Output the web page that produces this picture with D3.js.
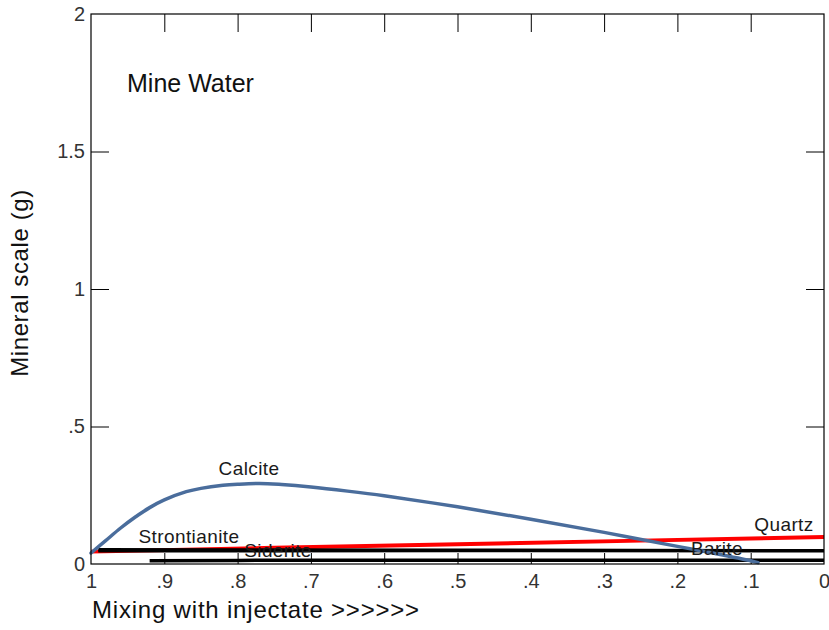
<!DOCTYPE html>
<html>
<head>
<meta charset="utf-8">
<script src="https://cdn.jsdelivr.net/npm/d3@7"></script>
<style>
  html, body { margin: 0; padding: 0; background: #fff; }
  svg { display: block; }
  text { font-family: "Liberation Sans", Arial, sans-serif; }
</style>
</head>
<body>
<svg id="chart" width="829" height="630"></svg>
<script>
// Mixing fraction (1 = pure mine water, 0 = pure injectate)
const calciteMix   = [1.0, 0.98, 0.96, 0.94, 0.92, 0.9, 0.87, 0.85, 0.82, 0.8, 0.77, 0.74, 0.7, 0.65, 0.6, 0.5, 0.4, 0.3, 0.2, 0.15, 0.1, 0.09];
const calciteScale = [0.04, 0.085, 0.13, 0.17, 0.205, 0.233, 0.263, 0.275, 0.286, 0.290, 0.293, 0.289, 0.280, 0.265, 0.248, 0.208, 0.163, 0.115, 0.064, 0.039, 0.012, 0.005];

const quartzMix   = [1.0, 0.75, 0.5, 0.25, 0.0];
const quartzScale = [0.045, 0.059, 0.072, 0.085, 0.098];

const strontMix   = [0.99, 0.5, 0.0];
const strontScale = [0.052, 0.050, 0.048];

const bariteMix   = [0.99, 0.5, 0.0];
const bariteScale = [0.047, 0.048, 0.049];

const sideriteMix   = [0.92, 0.8, 0.7, 0.5, 0.3, 0.0];
const sideriteScale = [0.012, 0.013, 0.014, 0.014, 0.014, 0.014];

const xTicks = [1, 0.9, 0.8, 0.7, 0.6, 0.5, 0.4, 0.3, 0.2, 0.1, 0];
const xTickLabels = ["1", ".9", ".8", ".7", ".6", ".5", ".4", ".3", ".2", ".1", "0"];
const yTicks = [0, 0.5, 1, 1.5, 2];
const yTickLabels = ["0", ".5", "1", "1.5", "2"];

const svg = d3.select("#chart");
const plotL = 91, plotR = 824, plotT = 14, plotB = 564;

const x = d3.scaleLinear().domain([1, 0]).range([plotL, plotR]);
const y = d3.scaleLinear().domain([0, 2]).range([plotB, plotT]);

const zip = (a, b) => a.map((v, i) => [v, b[i]]);
const line = d3.line().x(d => x(d[0])).y(d => y(d[1]));
const smooth = d3.line().x(d => x(d[0])).y(d => y(d[1])).curve(d3.curveCatmullRom.alpha(0.5));

const fmtX = d => xTickLabels[xTicks.indexOf(d)];
const fmtY = d => yTickLabels[yTicks.indexOf(d)];

// inward ticks on all four sides
svg.append("g").attr("transform", `translate(0,${plotT})`)
  .call(d3.axisBottom(x).tickValues(xTicks.slice(1, -1)).tickSize(18).tickFormat(""))
  .call(g => g.select(".domain").remove());

svg.append("g").attr("transform", `translate(0,${plotB})`)
  .call(d3.axisTop(x).tickValues(xTicks.slice(1, -1)).tickSize(11).tickFormat(""))
  .call(g => g.select(".domain").remove());

svg.append("g").attr("transform", `translate(${plotL},0)`)
  .call(d3.axisRight(y).tickValues(yTicks.slice(1, -1)).tickSize(18).tickFormat(""))
  .call(g => g.select(".domain").remove());

svg.append("g").attr("transform", `translate(${plotR},0)`)
  .call(d3.axisLeft(y).tickValues(yTicks.slice(1, -1)).tickSize(18).tickFormat(""))
  .call(g => g.select(".domain").remove());

// tick labels
svg.append("g").attr("transform", `translate(0,${plotB})`)
  .call(d3.axisBottom(x).tickValues(xTicks).tickSize(0).tickPadding(10).tickFormat(fmtX))
  .call(g => g.select(".domain").remove())
  .call(g => g.selectAll("text").attr("font-size", 20).attr("fill", "#333")
    .attr("font-family", "'Liberation Sans', Arial, sans-serif"));

svg.append("g").attr("transform", `translate(${plotL},0)`)
  .call(d3.axisLeft(y).tickValues(yTicks).tickSize(0).tickPadding(6).tickFormat(fmtY))
  .call(g => g.select(".domain").remove())
  .call(g => g.selectAll("text").attr("font-size", 20).attr("fill", "#333")
    .attr("font-family", "'Liberation Sans', Arial, sans-serif"));

// mineral curves
svg.append("path").datum(zip(quartzMix, quartzScale))
  .attr("d", line).attr("fill", "none").attr("stroke", "#ff0000").attr("stroke-width", 4);

svg.append("path").datum(zip(bariteMix, bariteScale))
  .attr("d", line).attr("fill", "none").attr("stroke", "#000").attr("stroke-width", 3);

svg.append("path").datum(zip(strontMix, strontScale))
  .attr("d", line).attr("fill", "none").attr("stroke", "#000").attr("stroke-width", 3.5);

svg.append("path").datum(zip(sideriteMix, sideriteScale))
  .attr("d", line).attr("fill", "none").attr("stroke", "#000").attr("stroke-width", 3.5);

svg.append("path").datum(zip(calciteMix, calciteScale))
  .attr("d", smooth).attr("fill", "none").attr("stroke", "#4a6d9c").attr("stroke-width", 3.5)
  .attr("stroke-linecap", "round");

// frame
svg.append("rect").attr("x", plotL).attr("y", plotT)
  .attr("width", plotR - plotL).attr("height", plotB - plotT)
  .attr("fill", "none").attr("stroke", "#000").attr("stroke-width", 1.2);

// curve labels
const labels = [
  { t: "Calcite",      x: 249, y: 475 },
  { t: "Strontianite", x: 189, y: 543 },
  { t: "Siderite",     x: 278, y: 557 },
  { t: "Barite",       x: 717, y: 555 },
  { t: "Quartz",       x: 784, y: 531 }
];
svg.append("g").selectAll("text").data(labels).join("text")
  .attr("x", d => d.x).attr("y", d => d.y)
  .attr("text-anchor", "middle").attr("font-size", 19).attr("letter-spacing", 0.4)
  .attr("fill", "#1a1a1a").text(d => d.t);

// title inside the plot
svg.append("text").attr("x", 127).attr("y", 92)
  .attr("font-family", "'DejaVu Sans', Verdana, sans-serif").attr("font-size", 25)
  .attr("fill", "#111").text("Mine Water");

// axis titles
svg.append("text").attr("x", 92).attr("y", 618)
  .attr("font-size", 24).attr("letter-spacing", 0.8).attr("fill", "#111")
  .text("Mixing with injectate >>>>>>");

svg.append("text").attr("transform", "translate(28,283) rotate(-90)")
  .attr("text-anchor", "middle").attr("font-size", 24).attr("letter-spacing", 0.6)
  .attr("fill", "#111").text("Mineral scale (g)");
</script>
</body>
</html>
